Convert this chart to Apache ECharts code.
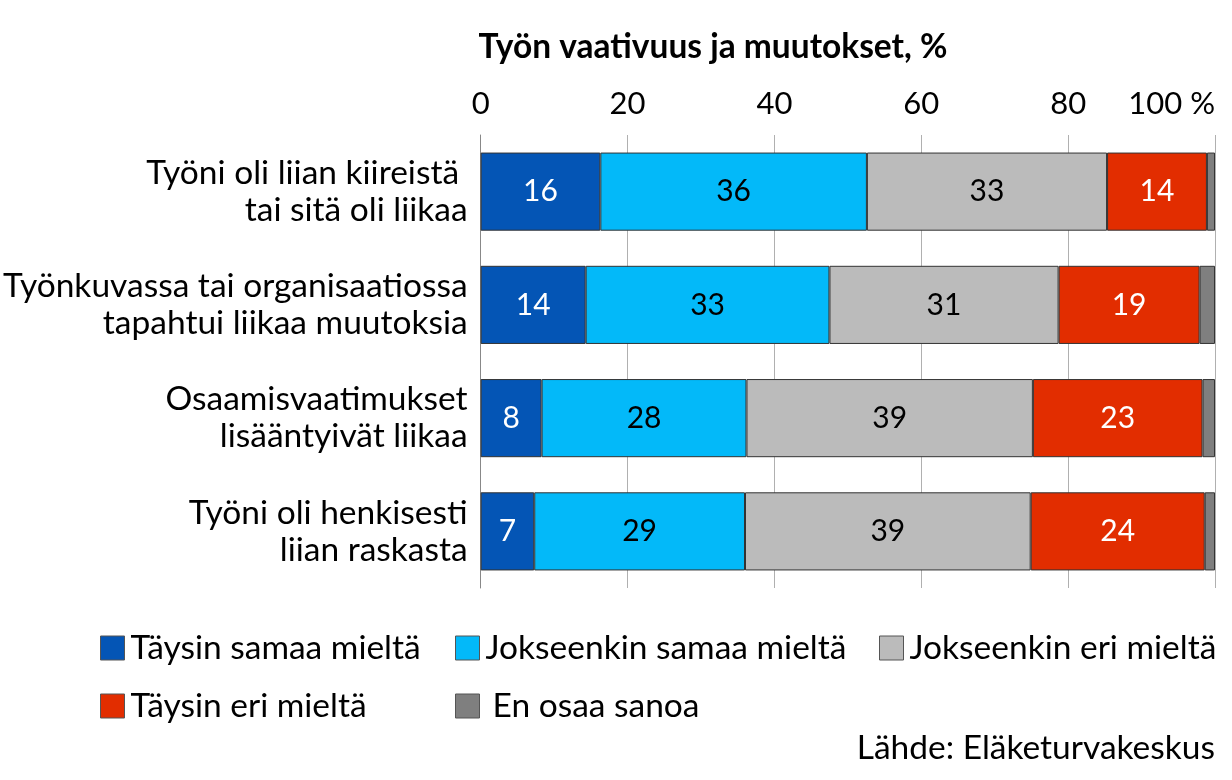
<!DOCTYPE html>
<html><head><meta charset="utf-8">
<script src="https://cdn.jsdelivr.net/npm/echarts@6/dist/echarts.min.js"></script>
<style>html,body{margin:0;padding:0;background:#fff}#c{width:1232px;height:780px}</style>
</head><body><div id="c"></div>
<script>
const categories = ["Työni oli liian kiireistä \ntai sitä oli liikaa", "Työnkuvassa tai organisaatiossa\ntapahtui liikaa muutoksia", "Osaamisvaatimukset\nlisääntyivät liikaa", "Työni oli henkisesti\nliian raskasta"];
const seriesNames = ["Täysin samaa mieltä", "Jokseenkin samaa mieltä", "Jokseenkin eri mieltä", "Täysin eri mieltä", "En osaa sanoa"];
const taysinSamaa = [16.3, 14.3, 8.3, 7.3];
const jokseenkinSamaa = [36.3, 33.2, 27.9, 28.7];
const jokseenkinEri = [32.7, 31.2, 39.0, 38.9];
const taysinEri = [13.6, 19.2, 23.1, 23.7];
const enOsaa = [1.1, 2.1, 1.7, 1.4];
const xTicks = [0, 20, 40, 60, 80, 100];

const colors = ["#0455b5", "#03b9f9", "#bbbbbb", "#e22d00", "#7f7f7f"];
const labelColors = ["#ffffff", "#000000", "#000000", "#ffffff", null];
const values = [taysinSamaa, jokseenkinSamaa, jokseenkinEri, taysinEri, enOsaa];
const FONT = "Lato";
const TXT = 33.5;

const chart = echarts.init(document.getElementById('c'));
const series = seriesNames.map((n, i) => ({
  name: n, type: 'bar', stack: 'all', barWidth: '69%',
  data: values[i],
  itemStyle: { color: colors[i], borderColor: '#333333', borderWidth: 1 },
  label: labelColors[i] ? {
    show: true, position: 'inside', color: labelColors[i], fontFamily: FONT, fontSize: 30,
    formatter: p => Math.round(p.value)
  } : { show: false },
  emphasis: { disabled: true }
}));

const legendPos = [[95, 626], [450, 626], [874, 626], [95, 684], [450, 684]];
const legends = seriesNames.map((n, i) => ({
  data: [n], left: legendPos[i][0], top: legendPos[i][1],
  itemWidth: 24, itemHeight: 24, itemGap: 0,
  icon: 'rect',
  itemStyle: { borderColor: '#555', borderWidth: 1 },
  textStyle: { fontFamily: FONT, fontSize: TXT, color: '#000', padding: i === 4 ? [0, 0, 0, 8] : [0, 0, 0, 1] },
  selectedMode: false
}));

chart.setOption({
  animation: false,
  title: [
    { text: "Työn vaativuus ja muutokset, %", left: 708, textAlign: 'center', top: 25,
      textStyle: { fontFamily: FONT, fontSize: TXT, fontWeight: 'bold', color: '#000' } },
    { text: "Lähde: Eläketurvakeskus", right: 12, top: 726,
      textStyle: { fontFamily: FONT, fontSize: TXT, fontWeight: 'normal', color: '#000' } }
  ],
  legend: legends,
  grid: { left: 480, right: 17, top: 135, bottom: 192 },
  xAxis: {
    type: 'value', position: 'top', min: 0, max: 100, interval: 20,
    axisLine: { show: false }, axisTick: { show: false },
    splitLine: { show: true, lineStyle: { color: '#b0b0b0', width: 1 } },
    axisLabel: { fontFamily: FONT, fontSize: 31, color: '#000', margin: 16, alignMaxLabel: 'right',
      formatter: v => xTicks.includes(v) ? (v === 100 ? '100 %' : String(v)) : '' }
  },
  yAxis: {
    type: 'category', inverse: true, data: categories,
    axisLine: { show: true, lineStyle: { color: '#888', width: 1 } },
    axisTick: { show: false },
    axisLabel: { fontFamily: FONT, fontSize: TXT, color: '#000', lineHeight: 37, align: 'right', margin: 13 }
  },
  series: series
});
</script></body></html>
